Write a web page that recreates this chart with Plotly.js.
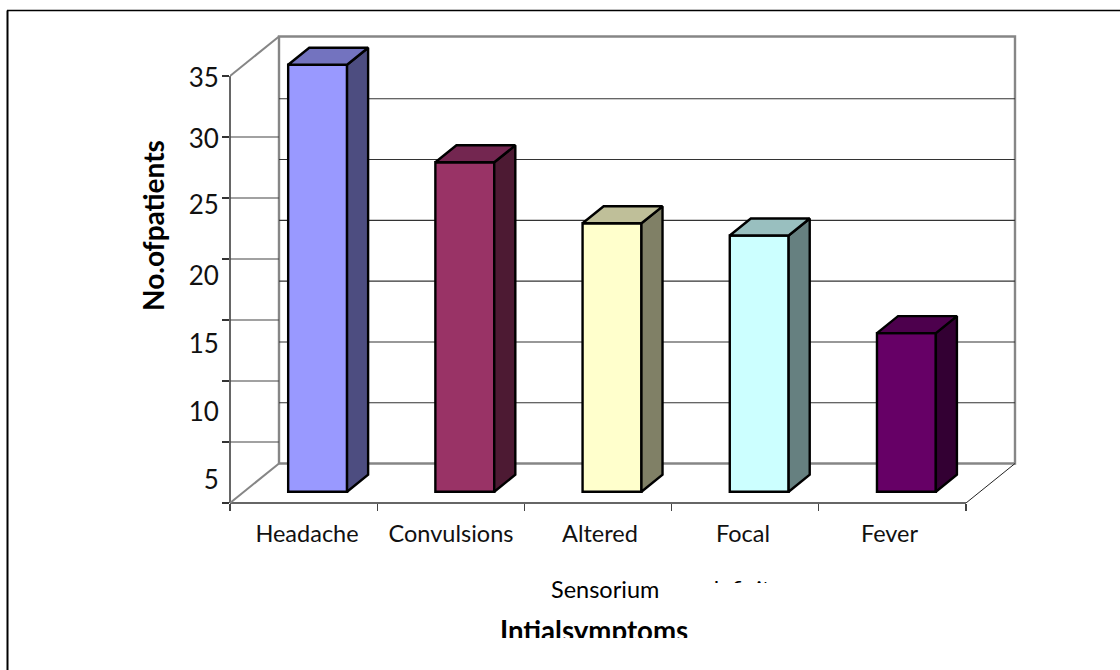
<!DOCTYPE html>
<html>
<head>
<meta charset="utf-8">
<script src="https://cdn.plot.ly/plotly-3.0.1.min.js"></script>
<style>
  html, body { margin: 0; padding: 0; background: #fff; overflow: hidden; }
  #chart { position: absolute; left: 0; top: 0; width: 1120px; height: 670px; }
  .cut { position: absolute; background: #fff; }
</style>
</head>
<body>
<div id="chart"></div>
<div class="cut" style="left:690px; top:583px; width:110px; height:30px;"></div>
<div class="cut" style="left:480px; top:638px; width:240px; height:32px;"></div>
<script>
// Symptom counts
const categories = ['Headache', 'Convulsions', 'Altered', 'Focal', 'Fever'];
const patients = [35, 27, 22, 21, 13];
const yTickValues = [0, 5, 10, 15, 20, 25, 30, 35];
const yTickLabels = ['35', '30', '25', '20', '15', '10', '5'];

// Face colours of each column
const frontColors = ['#9999FF', '#993366', '#FFFFCC', '#CCFFFF', '#660066'];
const sideColors = ['#4D4D80', '#4D1A33', '#808066', '#668080', '#330033'];
const topColors = ['#7373BF', '#732650', '#BFBF99', '#99BFBF', '#4D004D'];

// Page rows and columns used by the label axes
const labelRows = [77.5, 139, 205, 276, 344, 412, 480];
const labelCols = [307, 451, 600, 743, 889.5];

// Plot frame in page pixels
const L = 230, T = 20, W = 800, H = 483;
const xUnit = 147.2, yUnit = 12.2;
const depthX = 49 / xUnit, depthY = 39.5 / yUnit;
const barFrontX = 0.286 * depthX, barFrontY = 0.286 * depthY;
const barDepthX = 0.43 * depthX, barDepthY = 0.43 * depthY;
const barWidth = 0.4;
const catCount = categories.length, yMax = yTickValues[yTickValues.length - 1];

const paperX = px => (px - L) / W;
const paperY = py => (T + H - py) / H;

const wallGray = '#868686', inkDark = '#333333';
const line = (x0, y0, x1, y1, color, width, xref, yref) => ({
  type: 'line', layer: 'below', x0, y0, x1, y1,
  xref: xref || 'x', yref: yref || 'y', line: { color, width }
});

// Walls and floor of the box
const shapes = [
  { type: 'rect', layer: 'below', x0: depthX, x1: catCount + depthX, y0: depthY, y1: yMax + depthY,
    xref: 'x', yref: 'y', line: { color: wallGray, width: 2.4 } },
  line(0, yMax, depthX, yMax + depthY, wallGray, 2),
  line(0, 0, depthX, depthY, wallGray, 2),
  line(catCount, 0, catCount + depthX, depthY, '#222', 1),
  line(0, paperY(T + H), 0, paperY(T + H - yMax * yUnit), inkDark, 1.5, 'paper', 'paper'),
  line(0, 0, catCount * xUnit / W, 0, inkDark, 1.5, 'paper', 'paper'),
  // outer frame of the figure
  line(paperX(7.5), paperY(10.5), paperX(7.5), paperY(670), '#000', 2, 'paper', 'paper'),
  line(paperX(7), paperY(10.5), paperX(1120), paperY(10.5), '#000', 1.5, 'paper', 'paper')
];
yTickValues.slice(1, -1).forEach(v => {
  shapes.push(line(0, v, depthX, v, '#444', 1.2));
  shapes.push(line(depthX, v * 0.9965 + depthY, catCount + depthX, v * 0.9965 + depthY, '#333', 1.1));
});

// Front faces of the columns
const traces = [{
  type: 'bar',
  x: categories.map((_, i) => i + 0.5),
  y: patients,
  base: patients.map(() => barFrontY),
  width: barWidth,
  offset: -barWidth / 2 + barFrontX,
  marker: { color: frontColors, line: { color: '#000', width: 2.4 } },
  hoverinfo: 'skip', showlegend: false
}];

// Side and top faces, offset from the same values
patients.forEach((v, i) => {
  const xl = i + 0.5 - barWidth / 2 + barFrontX, xr = xl + barWidth;
  const yb = barFrontY, yt = barFrontY + v;
  const face = (xs, ys, fillcolor) => traces.push({
    type: 'scatter', mode: 'lines', x: xs, y: ys, fill: 'toself', fillcolor,
    line: { color: '#000', width: 2.4 }, hoverinfo: 'skip', showlegend: false
  });
  face([xr, xr + barDepthX, xr + barDepthX, xr, xr],
       [yb, yb + barDepthY, yt + barDepthY, yt, yb], sideColors[i]);
  face([xl, xl + barDepthX, xr + barDepthX, xr, xl],
       [yt, yt + barDepthY, yt + barDepthY, yt, yt], topColors[i]);
});

// Carrier for the label axes
traces.push({
  type: 'scatter', mode: 'markers', x: labelCols, y: labelRows.slice(0, catCount),
  xaxis: 'x2', yaxis: 'y2', marker: { opacity: 0 }, hoverinfo: 'skip', showlegend: false
});

const note = (text, px, py, size, bold, angle) => ({
  text: bold ? '<b>' + text + '</b>' : text,
  x: paperX(px), y: paperY(py), xref: 'paper', yref: 'paper',
  xanchor: 'center', yanchor: 'middle', showarrow: false, textangle: angle || 0,
  font: { family: 'Lato, sans-serif', size, color: '#000' }
});

const layout = {
  width: 1120, height: 670,
  margin: { l: L, t: T, r: 1120 - L - W, b: 670 - T - H, pad: 0 },
  paper_bgcolor: '#fff', plot_bgcolor: 'rgba(0,0,0,0)',
  showlegend: false, shapes,
  xaxis: {
    range: [0, W / xUnit], tickmode: 'array',
    tickvals: categories.map((_, i) => i).concat(catCount),
    showticklabels: false, ticks: 'outside', ticklen: 7, tickwidth: 1.3, tickcolor: '#444',
    showgrid: false, zeroline: false, showline: false, fixedrange: true
  },
  yaxis: {
    range: [0, H / yUnit], tickmode: 'array', tickvals: yTickValues,
    showticklabels: false, ticks: 'outside', ticklen: 7, tickwidth: 1.3, tickcolor: '#333',
    showgrid: false, zeroline: false, showline: false, fixedrange: true
  },
  xaxis2: {
    overlaying: 'x', anchor: 'y', side: 'bottom',
    range: [L, L + W], tickmode: 'array', tickvals: labelCols, ticktext: categories,
    tickfont: { family: 'Lato, sans-serif', size: 23.5, color: '#111' },
    ticks: 'outside', ticklen: 10, tickcolor: 'rgba(0,0,0,0)',
    showgrid: false, zeroline: false, showline: false, fixedrange: true
  },
  yaxis2: {
    overlaying: 'y', anchor: 'x', side: 'left',
    range: [T + H, T], tickmode: 'array', tickvals: labelRows, ticktext: yTickLabels,
    tickfont: { family: 'Lato, sans-serif', size: 26, color: '#111' },
    ticks: 'outside', ticklen: 5, tickcolor: 'rgba(0,0,0,0)',
    showgrid: false, zeroline: false, showline: false, fixedrange: true
  },
  annotations: [
    note('Sensorium', 604.5, 589, 23.5),
    note('deficits', 743, 589, 23.5),
    note('Intialsymptoms', 594, 630, 27.6, true),
    note('No.ofpatients', 153, 226, 28, true, -90)
  ]
};

Plotly.newPlot('chart', traces, layout, { displayModeBar: false, staticPlot: true });
</script>
</body>
</html>
